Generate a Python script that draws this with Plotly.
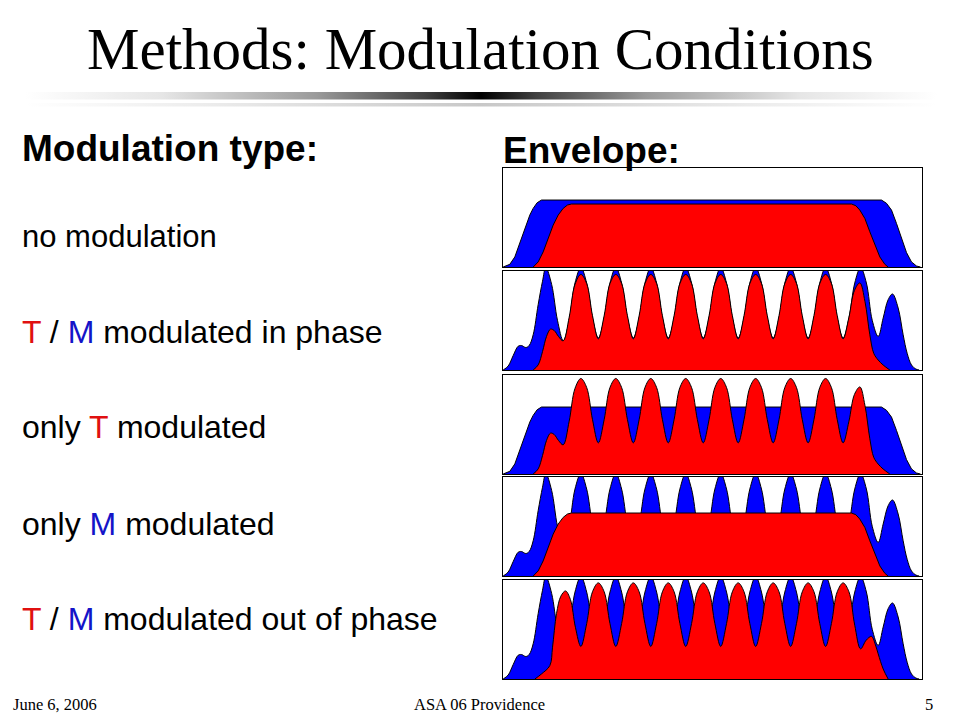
import plotly.graph_objects as go

# ---------------- text content ----------------
TITLE = "Methods: Modulation Conditions"
LEFT_HEADING = "Modulation type:"
RIGHT_HEADING = "Envelope:"
CONDITIONS = [
    "no modulation",
    '<span style="color:#e01010">T</span> / <span style="color:#1414c8">M</span> modulated in phase',
    'only <span style="color:#e01010">T</span> modulated',
    'only <span style="color:#1414c8">M</span> modulated',
    '<span style="color:#e01010">T</span> / <span style="color:#1414c8">M</span> modulated out of phase',
]
CONDITION_SIZES = [31, 32, 32, 32, 32]
FOOTER_LEFT = "June 6, 2006"
FOOTER_MID = "ASA 06 Providence"
FOOTER_RIGHT = "5"

# ---------------- envelope data (x: % of stimulus duration, y: relative amplitude) ----------------
# M (blue) unmodulated envelope
M_FLAT_X = [0.16, 1.75, 2.94, 4.14, 5.33, 6.52, 7.32, 8.27, 9.31, 90.45, 91.65, 92.84, 94.03, 95.23, 96.42, 97.61, 98.81, 99.76]
M_FLAT_Y = [0.0, 0.027, 0.101, 0.236, 0.387, 0.522, 0.589, 0.646, 0.673, 0.673, 0.640, 0.572, 0.438, 0.286, 0.145, 0.051, 0.010, 0.0]

# T (red) unmodulated envelope
T_FLAT_X = [7.32, 8.51, 9.71, 10.90, 12.09, 13.29, 14.48, 15.51, 16.47, 83.29, 84.33, 85.28, 86.48, 87.67, 88.86, 90.06, 91.25, 92.04]
T_FLAT_Y = [0.0, 0.051, 0.152, 0.286, 0.421, 0.522, 0.589, 0.623, 0.633, 0.633, 0.616, 0.572, 0.488, 0.354, 0.219, 0.101, 0.027, 0.0]

# M (blue) modulated envelope
M_MOD_X = [0.16, 1.35, 2.55, 3.74, 4.53, 5.57, 6.36, 7.32, 8.51, 9.55, 10.34,
           11.73, 13.12, 14.52, 15.91, 17.30, 18.70,
           20.09, 21.48, 22.87, 24.26, 25.65, 27.04,
           28.43, 29.82, 31.22, 32.61, 34.00, 35.39,
           36.78, 38.17, 39.56, 40.95, 42.34, 43.73,
           45.12, 46.51, 47.91, 49.30, 50.69, 52.08,
           53.47, 54.86, 56.25, 57.64, 59.03, 60.42,
           61.81, 63.20, 64.60, 65.99, 67.38, 68.77,
           70.16, 71.55, 72.94, 74.33, 75.72, 77.11,
           78.50, 79.89, 81.29, 82.68, 84.07, 85.46,
           86.85, 88.24, 89.66, 90.85, 92.04, 93.08,
           94.43, 95.62, 96.58, 97.61, 98.65, 99.44]
M_MOD_Y = [0.0, 0.040, 0.145, 0.239, 0.246, 0.226, 0.246, 0.354, 0.657, 0.892, 1.03,
           0.860, 0.500, 0.293, 0.500, 0.874, 1.03,
           0.874, 0.520, 0.322, 0.520, 0.874, 1.03,
           0.874, 0.520, 0.322, 0.520, 0.874, 1.03,
           0.874, 0.520, 0.322, 0.520, 0.874, 1.03,
           0.874, 0.520, 0.322, 0.520, 0.874, 1.03,
           0.874, 0.520, 0.322, 0.520, 0.874, 1.03,
           0.874, 0.520, 0.322, 0.520, 0.874, 1.03,
           0.874, 0.520, 0.322, 0.520, 0.874, 1.03,
           0.874, 0.520, 0.322, 0.520, 0.874, 1.03,
           0.874, 0.500, 0.337, 0.522, 0.707, 0.764,
           0.623, 0.354, 0.168, 0.051, 0.010, 0.0]

# T (red) modulated envelope, in phase with M
T_IN_X = [7.32, 8.51, 9.55, 10.50, 11.46, 12.33, 13.37, 14.48, 15.91, 17.30, 18.70,
          20.09, 21.48, 22.87, 24.26, 25.65, 27.04,
          28.43, 29.82, 31.22, 32.61, 34.00, 35.39,
          36.78, 38.17, 39.56, 40.95, 42.34, 43.73,
          45.12, 46.51, 47.91, 49.30, 50.69, 52.08,
          53.47, 54.86, 56.25, 57.64, 59.03, 60.42,
          61.81, 63.20, 64.60, 65.99, 67.38, 68.77,
          70.16, 71.55, 72.94, 74.33, 75.72, 77.11,
          78.50, 79.89, 81.29, 82.68, 84.00, 85.30,
          86.50, 87.67, 88.60, 89.66, 90.85, 92.44]
T_IN_Y = [0.0, 0.051, 0.185, 0.337, 0.411, 0.397, 0.337, 0.293, 0.530, 0.860, 0.960,
          0.869, 0.546, 0.313, 0.546, 0.869, 0.960,
          0.869, 0.546, 0.313, 0.546, 0.869, 0.960,
          0.869, 0.546, 0.313, 0.546, 0.869, 0.960,
          0.869, 0.546, 0.313, 0.546, 0.869, 0.960,
          0.869, 0.546, 0.313, 0.546, 0.869, 0.960,
          0.869, 0.546, 0.313, 0.546, 0.869, 0.960,
          0.869, 0.546, 0.313, 0.546, 0.869, 0.960,
          0.869, 0.546, 0.313, 0.530, 0.800, 0.875,
          0.690, 0.354, 0.168, 0.100, 0.050, 0.0]

# T (red) modulated envelope, out of phase with M
T_OUT_X = [7.72, 9.31, 11.30, 11.94, 12.89, 13.92, 15.04, 16.20, 17.40, 18.70,
           20.09, 21.48, 22.87, 24.26, 25.65, 27.04,
           28.43, 29.82, 31.22, 32.61, 34.00, 35.39,
           36.78, 38.17, 39.56, 40.95, 42.34, 43.73,
           45.12, 46.51, 47.91, 49.30, 50.69, 52.08,
           53.47, 54.86, 56.25, 57.64, 59.03, 60.42,
           61.81, 63.20, 64.60, 65.99, 67.38, 68.77,
           70.16, 71.55, 72.94, 74.33, 75.72, 77.11,
           78.50, 79.89, 81.29, 82.68, 84.07, 85.46,
           86.80, 88.07, 89.10, 89.66, 90.85, 92.04]
T_OUT_Y = [0.0, 0.051, 0.135, 0.320, 0.657, 0.832, 0.885, 0.800, 0.520, 0.327,
           0.557, 0.877, 0.966, 0.877, 0.557, 0.327,
           0.557, 0.877, 0.966, 0.877, 0.557, 0.327,
           0.557, 0.877, 0.966, 0.877, 0.557, 0.327,
           0.557, 0.877, 0.966, 0.877, 0.557, 0.327,
           0.557, 0.877, 0.966, 0.877, 0.557, 0.327,
           0.557, 0.877, 0.966, 0.877, 0.557, 0.327,
           0.557, 0.877, 0.966, 0.877, 0.557, 0.327,
           0.557, 0.877, 0.966, 0.877, 0.540, 0.303,
           0.390, 0.428, 0.330, 0.253, 0.101, 0.0]

# which envelopes go in each of the five panels: (M, T); each entry (x, y, line shape)
PANELS = [
    ((M_FLAT_X, M_FLAT_Y, "linear"), (T_FLAT_X, T_FLAT_Y, "linear")),
    ((M_MOD_X, M_MOD_Y, "spline"), (T_IN_X, T_IN_Y, "spline")),
    ((M_FLAT_X, M_FLAT_Y, "linear"), (T_IN_X, T_IN_Y, "spline")),
    ((M_MOD_X, M_MOD_Y, "spline"), (T_FLAT_X, T_FLAT_Y, "linear")),
    ((M_MOD_X, M_MOD_Y, "spline"), (T_OUT_X, T_OUT_Y, "spline")),
]

BLUE = "#0000ff"
RED = "#ff0000"

# page is rendered with the default 8px body margin -> shrink the figure accordingly
OFF = 8
W, H = 960 - OFF, 720 - OFF


def px(xp):
    return (xp - OFF) / W


def py(yp):
    return 1 - (yp - OFF) / H


PANEL_LEFT, PANEL_RIGHT = 502.5, 921.5
PANEL_TOPS = [167.5, 270.5, 374.5, 476.5, 579.5]
PANEL_H = 99.5

fig = go.Figure()
layout = dict(
    width=W, height=H, autosize=False,
    margin=dict(l=0, r=0, t=0, b=0, pad=0),
    paper_bgcolor="white", plot_bgcolor="rgba(0,0,0,0)",
    showlegend=False,
)

for i, ((mx, my, mshape), (tx, ty, tshape)) in enumerate(PANELS):
    n = i + 1
    xa = "x" if n == 1 else f"x{n}"
    ya = "y" if n == 1 else f"y{n}"
    fig.add_trace(go.Scatter(x=mx, y=my, xaxis=xa, yaxis=ya, mode="lines",
                             line=dict(color="#000000", width=1, shape=mshape),
                             fill="tozeroy", fillcolor=BLUE, hoverinfo="skip"))
    fig.add_trace(go.Scatter(x=tx, y=ty, xaxis=xa, yaxis=ya, mode="lines",
                             line=dict(color="#000000", width=1, shape=tshape),
                             fill="tozeroy", fillcolor=RED, hoverinfo="skip"))
    top = PANEL_TOPS[i]
    bot = top + PANEL_H
    axis_common = dict(showgrid=False, zeroline=False, showticklabels=False, ticks="",
                       showline=True, mirror=True, linecolor="black", linewidth=1, fixedrange=True)
    layout["xaxis" if n == 1 else f"xaxis{n}"] = dict(
        domain=[px(PANEL_LEFT), px(PANEL_RIGHT)], range=[0, 100],
        anchor=ya, **axis_common)
    layout["yaxis" if n == 1 else f"yaxis{n}"] = dict(
        domain=[py(bot), py(top)], range=[0, 1],
        anchor=xa, **axis_common)

# decorative gradient rule under the title (page-pixel overlay axis)
layout["xaxis6"] = dict(domain=[0, 1], range=[OFF, OFF + W], visible=False, anchor="y6", fixedrange=True)
layout["yaxis6"] = dict(domain=[0, 1], range=[OFF + H, OFF], visible=False, anchor="x6", fixedrange=True)
fig.add_trace(go.Scatter(
    x=[25, 937, 937, 25, 25], y=[92, 92, 99.5, 99.5, 92], xaxis="x6", yaxis="y6",
    mode="lines", line=dict(width=0), fill="toself", hoverinfo="skip",
    fillgradient=dict(type="horizontal", colorscale=[
        [0, "#ffffff"], [0.15, "#e6e6e6"], [0.32, "#9a9a9a"], [0.44, "#404040"],
        [0.5, "#000000"], [0.56, "#404040"], [0.68, "#9a9a9a"], [0.85, "#e6e6e6"], [1, "#ffffff"]])))
fig.add_trace(go.Scatter(
    x=[25, 937, 937, 25, 25], y=[103, 103, 106.5, 106.5, 103], xaxis="x6", yaxis="y6",
    mode="lines", line=dict(width=0), fill="toself", hoverinfo="skip",
    fillgradient=dict(type="horizontal", colorscale=[
        [0, "#ffffff"], [0.2, "#ececec"], [0.5, "#c8c8c8"], [0.8, "#ececec"], [1, "#ffffff"]])))

ann = []
ann.append(dict(text=TITLE, x=px(480), y=py(49), xref="paper", yref="paper",
                xanchor="center", yanchor="middle", showarrow=False,
                font=dict(family="Liberation Serif", size=59, color="black")))
ann.append(dict(text=f"<b>{LEFT_HEADING}</b>", x=px(20), y=py(148), xref="paper", yref="paper",
                xanchor="left", yanchor="middle", showarrow=False,
                font=dict(family="Liberation Sans", size=37, color="black")))
ann.append(dict(text=f"<b>{RIGHT_HEADING}</b>", x=px(501), y=py(150), xref="paper", yref="paper",
                xanchor="left", yanchor="middle", showarrow=False,
                font=dict(family="Liberation Sans", size=37, color="black")))
COND_Y = [236, 332, 427, 524, 619]
for txt, yy, sz in zip(CONDITIONS, COND_Y, CONDITION_SIZES):
    ann.append(dict(text=txt, x=px(20), y=py(yy), xref="paper", yref="paper",
                    xanchor="left", yanchor="middle", showarrow=False,
                    font=dict(family="Liberation Sans", size=sz, color="black")))
for txt, xx, anc in [(FOOTER_LEFT, 11, "left"), (FOOTER_MID, 479, "center"), (FOOTER_RIGHT, 935, "right")]:
    ann.append(dict(text=txt, x=px(xx), y=py(704), xref="paper", yref="paper",
                    xanchor=anc, yanchor="middle", showarrow=False,
                    font=dict(family="Liberation Serif", size=16.5, color="black")))
layout["annotations"] = ann

fig.update_layout(**layout)
fig.write_html("out.html")
